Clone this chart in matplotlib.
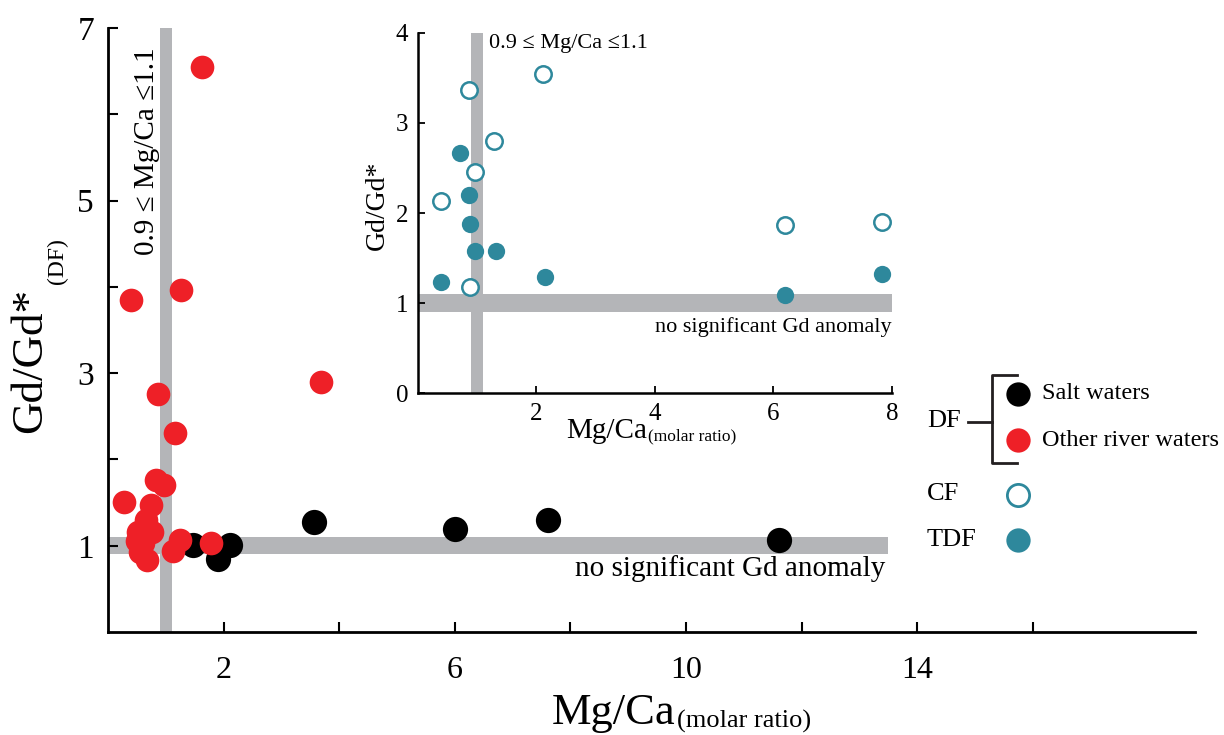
import matplotlib.pyplot as plt
from matplotlib.lines import Line2D

plt.rcParams['font.family'] = ['Liberation Serif', 'DejaVu Serif']

RED = '#ee2027'
TEAL = '#2e889c'
GREY = '#b4b5b8'
INK = '#231f20'

# DF samples (main panel)
salt_mgca = [1.47, 1.90, 2.11, 3.56, 6.00, 7.61, 11.6]
salt_gd = [1.01, 0.85, 1.01, 1.27, 1.20, 1.30, 1.07]

river_mgca = [1.63, 0.40, 1.26, 3.69, 0.87, 1.16, 0.27, 0.83, 0.97, 0.74,
              0.66, 0.52, 0.76, 0.50, 0.61, 0.55, 0.67, 1.12, 1.25, 1.79]
river_gd = [6.55, 3.85, 3.96, 2.90, 2.76, 2.31, 1.51, 1.76, 1.70, 1.47,
            1.30, 1.16, 1.16, 1.05, 1.03, 0.93, 0.83, 0.94, 1.07, 1.03]

# inset: CF and TDF
cf_mgca = [2.12, 0.87, 1.29, 0.97, 0.39, 0.89, 6.19, 7.83]
cf_gd = [3.54, 3.36, 2.80, 2.46, 2.13, 1.18, 1.87, 1.90]

tdf_mgca = [0.72, 0.87, 0.89, 0.97, 1.32, 0.39, 2.14, 6.19, 7.83]
tdf_gd = [2.67, 2.20, 1.88, 1.58, 1.58, 1.24, 1.29, 1.09, 1.32]

band = (0.9, 1.1)

W, H = 1224, 735


def fx(px):
    return px / W


def fy(py):
    return 1 - py / H


def xlabel_with_sub(fig, x, y, main, sub, size, sub_size):
    # big label text followed by a smaller lowered suffix
    t = fig.text(fx(x), fy(y), main, ha='left', va='baseline', fontsize=size)
    fig.canvas.draw()
    bb = t.get_window_extent()
    fig.text((bb.x1 + 1) / W, bb.y0 / H, sub, ha='left', va='bottom',
             fontsize=sub_size)


fig = plt.figure(figsize=(12.24, 7.35), dpi=100)

# ---- main panel
ax = fig.add_axes([0.0882, 0.140, 0.888, 0.822])
ax.set_xlim(0, 18.8)
ax.set_ylim(0, 7)
ax.axvspan(*band, color=GREY, lw=0, zorder=1)
ax.fill_between([0, 13.5], band[0], band[1], color=GREY, lw=0, zorder=1)
ax.scatter(salt_mgca, salt_gd, s=330, color='black', lw=0, zorder=3)
ax.scatter(river_mgca, river_gd, s=290, color=RED, lw=0, zorder=4)

for side in ['top', 'right']:
    ax.spines[side].set_visible(False)
for side in ['left', 'bottom']:
    ax.spines[side].set_linewidth(2)
ax.set_xticks(range(2, 18, 2))
ax.set_xticklabels(['2', '', '6', '', '10', '', '14', ''])
ax.set_yticks(range(1, 8))
ax.set_yticklabels(['1', '', '3', '', '5', '', '7'])
ax.tick_params(direction='in', length=7, width=1.5)
ax.tick_params(axis='x', pad=17, labelsize=23)
ax.tick_params(axis='y', pad=10, labelsize=24)

ax.text(0.67, 4.37, '0.9 \u2264 Mg/Ca \u22641.1', rotation=90, fontsize=21,
        ha='center', va='bottom', zorder=5)
ax.text(13.45, 0.74, 'no significant Gd anomaly', fontsize=21,
        ha='right', va='center', zorder=5)

# ---- inset
ins = fig.add_axes([0.3413, 0.4649, 0.3873, 0.4906])
ins.set_xlim(0, 8)
ins.set_ylim(0, 4)
ins.axvspan(*band, color=GREY, lw=0, zorder=1)
ins.axhspan(*band, color=GREY, lw=0, zorder=1)
ins.scatter(tdf_mgca, tdf_gd, s=155, color=TEAL, lw=0, zorder=3)
ins.scatter(cf_mgca, cf_gd, s=140, facecolor='white', edgecolor=TEAL,
            lw=1.8, zorder=3)
for side in ['top', 'right']:
    ins.spines[side].set_visible(False)
for side in ['left', 'bottom']:
    ins.spines[side].set_linewidth(1.8)
ins.set_xticks([2, 4, 6, 8])
ins.set_yticks([0, 1, 2, 3, 4])
ins.tick_params(direction='in', length=5, width=1.3, labelsize=18, pad=7)
ins.text(1.2, 3.88, '0.9 \u2264 Mg/Ca \u22641.1', fontsize=16,
         ha='left', va='center')
ins.text(8.0, 0.74, 'no significant Gd anomaly', fontsize=16,
         ha='right', va='center')

# axis titles
xlabel_with_sub(fig, 552, 724, 'Mg/Ca', '(molar ratio)', 32, 19)
xlabel_with_sub(fig, 566, 438, 'Mg/Ca', '(molar ratio)', 21, 12.5)

gd = fig.text(fx(50), fy(433), 'Gd/Gd*', rotation=90, ha='right',
              va='bottom', fontsize=32.5)
fig.canvas.draw()
gd_top = gd.get_window_extent().y1
fig.text(fx(68), (gd_top + 4) / H, '(DF)', rotation=90, ha='right',
         va='bottom', fontsize=17)
fig.text(fx(390), fy(250), 'Gd/Gd*', rotation=90, ha='right', va='bottom',
         fontsize=20)

# ---- legend
lw = 2
fig.add_artist(Line2D([fx(1017), fx(992), fx(992), fx(1017)],
                      [fy(375), fy(375), fy(463), fy(463)],
                      color=INK, lw=lw))
fig.add_artist(Line2D([fx(968), fx(992)], [fy(422), fy(422)],
                      color=INK, lw=lw))
fig.text(fx(927), fy(421), 'DF', fontsize=19, ha='left', va='center')
fig.add_artist(Line2D([fx(1018)], [fy(394)], marker='o', ms=17.5,
                      color='black', mew=0))
fig.add_artist(Line2D([fx(1018)], [fy(440)], marker='o', ms=17.5,
                      color=RED, mew=0))
fig.text(fx(1042), fy(394), 'Salt waters', fontsize=17.5, ha='left',
         va='center')
fig.text(fx(1042), fy(440), 'Other river waters', fontsize=17.5,
         ha='left', va='center')
fig.text(fx(927), fy(494), 'CF', fontsize=19, ha='left', va='center')
fig.text(fx(927), fy(540), 'TDF', fontsize=19, ha='left', va='center')
fig.add_artist(Line2D([fx(1018)], [fy(495)], marker='o', ms=16,
                      markerfacecolor='white', markeredgecolor=TEAL, mew=2))
fig.add_artist(Line2D([fx(1018)], [fy(540)], marker='o', ms=17.5,
                      color=TEAL, mew=0))

fig.savefig('out.png', dpi=100)
